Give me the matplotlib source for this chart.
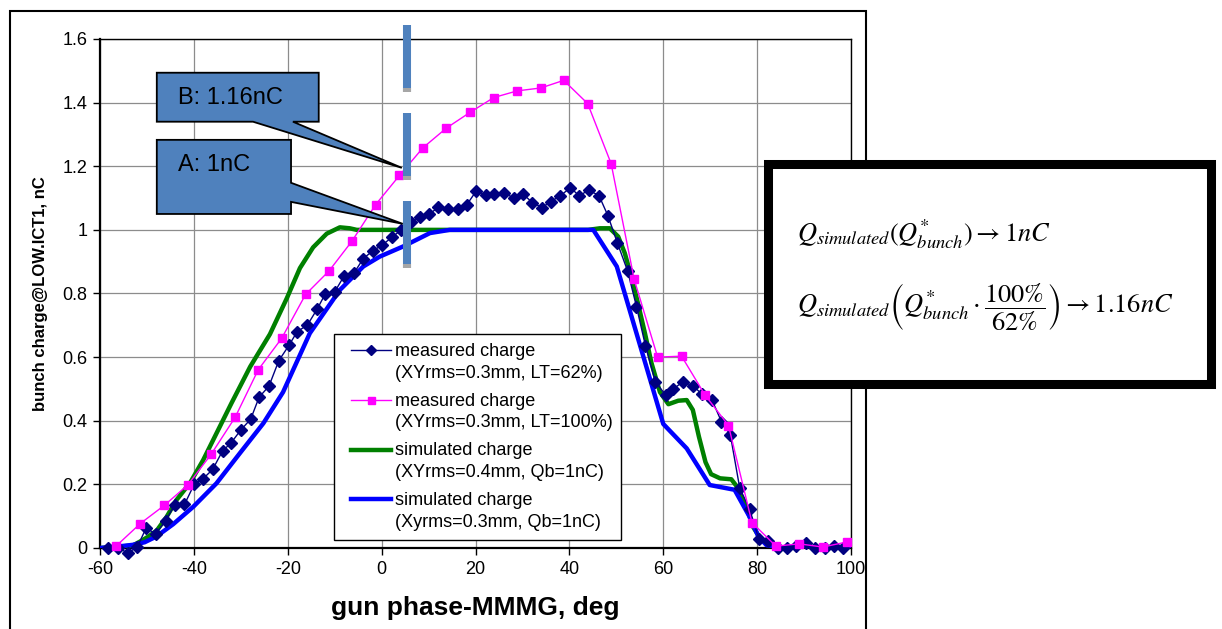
import matplotlib
matplotlib.use("Agg")
import matplotlib.pyplot as plt
from matplotlib.lines import Line2D
from matplotlib.patches import Polygon, Rectangle
from matplotlib.legend_handler import HandlerLine2D
from matplotlib.ticker import FuncFormatter, MultipleLocator
from matplotlib.transforms import Affine2D

plt.rcParams['font.family'] = ['Liberation Sans', 'DejaVu Sans']
plt.rcParams['mathtext.fontset'] = 'stix'
plt.rcParams['axes.unicode_minus'] = False

# measured charge, laser transmission 62 %
phase_lt62 = [-58.2, -56.2, -54.1, -52.1, -50.2, -48.1, -46.0, -44.1, -42.0, -39.9,
              -38.1, -36.0, -33.9, -32.1, -30.0, -27.9, -26.1, -24.0, -21.9, -19.7,
              -18.0, -15.8, -13.7, -12.0, -10.0, -8.0, -5.9, -3.9, -1.8, 0.1,
              2.2, 4.1, 6.2, 8.2, 10.1, 12.1, 14.1, 16.2, 18.1, 20.1,
              22.2, 24.0, 26.1, 28.2, 30.1, 32.1, 34.2, 36.0, 38.1, 40.2,
              42.1, 44.1, 46.3, 48.2, 50.2, 52.4, 54.3, 56.2, 58.3, 60.5,
              62.1, 64.2, 66.4, 68.3, 70.4, 72.4, 74.3, 76.3, 78.4, 80.4,
              82.3, 84.4, 86.4, 88.3, 90.5, 92.4, 94.4, 96.4, 98.3]
charge_lt62 = [0.0, 0.0, -0.015, 0.002, 0.062, 0.045, 0.086, 0.135, 0.137, 0.201,
               0.217, 0.247, 0.305, 0.330, 0.371, 0.405, 0.474, 0.509, 0.589, 0.638,
               0.680, 0.701, 0.752, 0.799, 0.805, 0.855, 0.864, 0.910, 0.935, 0.952,
               0.977, 0.999, 1.026, 1.041, 1.049, 1.071, 1.065, 1.065, 1.078, 1.121,
               1.111, 1.113, 1.116, 1.100, 1.113, 1.086, 1.070, 1.089, 1.107, 1.133,
               1.107, 1.125, 1.108, 1.045, 0.960, 0.871, 0.759, 0.636, 0.523, 0.481,
               0.499, 0.523, 0.509, 0.483, 0.465, 0.397, 0.355, 0.188, 0.122, 0.027,
               0.023, 0.0, 0.0, 0.005, 0.015, 0.0, 0.0, 0.007, 0.0]

# measured charge, laser transmission 100 %
phase_lt100 = [-56.5, -51.4, -46.3, -41.3, -36.3, -31.2, -26.3, -21.3, -16.2, -11.2,
               -6.3, -1.3, 3.8, 8.8, 13.8, 18.9, 23.9, 28.9, 33.9, 38.8,
               43.9, 48.9, 53.8, 58.8, 63.9, 68.9, 73.9, 78.9, 84.0, 89.0,
               94.0, 99.1]
charge_lt100 = [0.007, 0.077, 0.134, 0.198, 0.295, 0.411, 0.560, 0.659, 0.797, 0.871,
                0.965, 1.079, 1.171, 1.258, 1.320, 1.370, 1.416, 1.437, 1.446, 1.470,
                1.397, 1.208, 0.845, 0.600, 0.603, 0.481, 0.385, 0.080, 0.006, 0.013,
                0.003, 0.019]

# simulated charge, XYrms = 0.4 mm
phase_sim04 = [-60, -56, -53, -51.5, -49.8, -47.9, -45.8, -43.7, -40.8, -38.0,
               -35.2, -32.0, -28.0, -23.8, -20.2, -17.4, -14.6, -11.7, -8.9, -6.8,
               -5.3, 44.0, 46.5, 48.6, 50.4, 51.8, 53.2, 54.6, 56.1, 57.5,
               59.3, 61.1, 63.2, 65.0, 66.3, 67.6, 69.0, 70.2, 72.1, 74.5,
               75.6, 77.7, 79.1, 80.9, 83.4, 87.0, 90.0, 98.0]
charge_sim04 = [0.0, 0.004, 0.008, 0.020, 0.035, 0.055, 0.098, 0.151, 0.205, 0.277,
                0.360, 0.455, 0.570, 0.672, 0.785, 0.880, 0.945, 0.988, 1.008, 1.005,
                1.0, 1.0, 1.005, 1.005, 0.979, 0.927, 0.853, 0.770, 0.675, 0.581,
                0.490, 0.452, 0.463, 0.465, 0.434, 0.350, 0.270, 0.232, 0.219, 0.216,
                0.195, 0.130, 0.067, 0.025, 0.004, -0.004, 0.0, 0.0]

# simulated charge, XYrms = 0.3 mm
phase_sim03 = [-60, -56, -53, -50.5, -48, -44.4, -40.1, -35.2, -30.2, -25.2,
               -21.0, -15.3, -8.9, -3.9, -0.4, 4.6, 10.3, 14.5, 45.1, 50.1,
               60.0, 65.0, 69.9, 75.2, 78.4, 80.3, 82.0, 84.8, 100]
charge_sim03 = [0.0, 0.005, 0.010, 0.018, 0.036, 0.075, 0.130, 0.203, 0.298, 0.392,
                0.490, 0.675, 0.811, 0.885, 0.916, 0.948, 0.990, 1.0, 1.0, 0.885,
                0.390, 0.313, 0.198, 0.183, 0.098, 0.035, 0.009, 0.002, 0.0]

labels = ["measured charge\n(XYrms=0.3mm, LT=62%)",
          "measured charge\n(XYrms=0.3mm, LT=100%)",
          "simulated charge\n(XYrms=0.4mm, Qb=1nC)",
          "simulated charge\n(Xyrms=0.3mm, Qb=1nC)"]

# callouts: (text, text position, outline polygon in data units)
callout_b = ("B: 1.16nC", (-43.4, 1.415),
             [(-47.9, 1.494), (-13.4, 1.494), (-13.4, 1.34), (-18.9, 1.34),
              (4.3, 1.195), (-27.4, 1.34), (-47.9, 1.34)])
callout_a = ("A: 1nC", (-43.4, 1.204),
             [(-47.9, 1.283), (-19.3, 1.283), (-19.3, 1.148), (4.5, 1.019),
              (-19.3, 1.088), (-19.3, 1.05), (-47.9, 1.05)])
marker_phase = 5.4
marker_segments = [(1.434, 1.645), (1.157, 1.368), (0.880, 1.091)]


class ShiftedLineHandler(HandlerLine2D):
    """Legend line handle moved by (dx, dy) font sizes."""

    def __init__(self, dx, dy, **kw):
        super().__init__(**kw)
        self.dx, self.dy = dx, dy

    def create_artists(self, legend, orig_handle, xdescent, ydescent, width,
                       height, fontsize, trans):
        arts = super().create_artists(legend, orig_handle, xdescent, ydescent,
                                      width, height, fontsize, trans)
        shift = Affine2D().translate(self.dx * fontsize, self.dy * fontsize) + trans
        for a in arts:
            a.set_transform(shift)
        return arts


fig = plt.figure(figsize=(12.22, 6.29), dpi=100)
ax = fig.add_axes([100 / 1222, 1 - 548 / 629, 751 / 1222, 509 / 629])

ax.plot(phase_sim04, charge_sim04, color='#008000', lw=3.2, zorder=3, label=labels[2])
ax.plot(phase_sim03, charge_sim03, color='#0000FF', lw=3.2, zorder=3.1, label=labels[3])
l62, = ax.plot(phase_lt62, charge_lt62, color='#000080', lw=1.0, marker='D', ms=6,
               zorder=4, clip_on=False, label=labels[0])
l100, = ax.plot(phase_lt100, charge_lt100, color='#FF00FF', lw=1.0, marker='s', ms=6.3,
                zorder=4.1, clip_on=False, label=labels[1])

ax.set_xlim(-60, 100)
ax.set_ylim(0, 1.6)
ax.xaxis.set_major_locator(MultipleLocator(20))
ax.yaxis.set_major_locator(MultipleLocator(0.2))
ax.yaxis.set_major_formatter(FuncFormatter(lambda v, p: '%g' % round(v, 1)))
ax.grid(True, color='#8c8c8c', lw=0.9)
ax.set_axisbelow(True)
ax.tick_params(direction='out', length=5, width=1, labelsize=13, pad=4, color='black')
for s in ['left', 'bottom']:
    ax.spines[s].set_linewidth(1.6)
for s in ['top', 'right']:
    ax.spines[s].set_linewidth(1.0)

ax.set_xlabel("gun phase-MMMG, deg", fontsize=19, fontweight='bold')
ax.xaxis.set_label_coords(0.5, -0.094)
ax.set_ylabel("bunch charge@LOW.ICT1, nC", fontsize=12, fontweight='bold')
ax.yaxis.set_label_coords(-0.069, 0.5)

# legend, handles aligned with the first line of each label
handles = [l62, l100, ax.lines[0], ax.lines[1]]
leg = ax.legend(handles, labels, loc='upper left', bbox_to_anchor=(0.3116, 0.4207),
                borderaxespad=0, fontsize=13, handlelength=2.2, handletextpad=0.66,
                labelspacing=0.6, borderpad=0.5, fancybox=False, framealpha=1,
                edgecolor='black', markerscale=0.8,
                handler_map={Line2D: ShiftedLineHandler(0.44, 0.67)})
leg.get_frame().set_linewidth(1.0)
leg.set_zorder(6)
for t in leg.get_texts():
    t.set_linespacing(1.37)

# phase marker bars
for y0, y1 in marker_segments:
    ax.plot([marker_phase, marker_phase], [y0, y1], color='#4F81BD', lw=5.8,
            solid_capstyle='butt', clip_on=False, zorder=7)
    ax.plot([marker_phase, marker_phase], [y0, y0 + 0.013], color='#A6A6A6', lw=5.8,
            solid_capstyle='butt', clip_on=False, zorder=7.1)

# callout boxes
for text, (tx, ty), poly in [callout_b, callout_a]:
    ax.add_patch(Polygon(poly, closed=True, facecolor='#4F81BD', edgecolor='black',
                         lw=1.3, clip_on=False, zorder=8))
    ax.text(tx, ty, text, fontsize=17, ha='left', va='center', zorder=9)

# outer frame around the chart
fig.add_artist(Rectangle((10 / 1222, -0.01), 856 / 1222, 1 - 11 / 629 + 0.01,
                         transform=fig.transFigure, fill=False, lw=1.5,
                         edgecolor='black'))

# formula box
fig.add_artist(Rectangle((767.5 / 1222, 1 - 383.5 / 629), 443 / 1222, 219 / 629,
                         transform=fig.transFigure, facecolor='white',
                         edgecolor='black', lw=6.5, zorder=10))
fig.text(797 / 1222, 1 - 242 / 629,
         r"$Q_{simulated}(Q^{*}_{bunch})\rightarrow 1nC$",
         fontsize=19, ha='left', va='baseline', zorder=11)
fig.text(797 / 1222, 1 - 313 / 629,
         r"$Q_{simulated}\left(Q^{*}_{bunch}\cdot\dfrac{100\%}{62\%}\right)\rightarrow 1.16nC$",
         fontsize=19, ha='left', va='baseline', zorder=11)

fig.savefig("out.png", dpi=100)
